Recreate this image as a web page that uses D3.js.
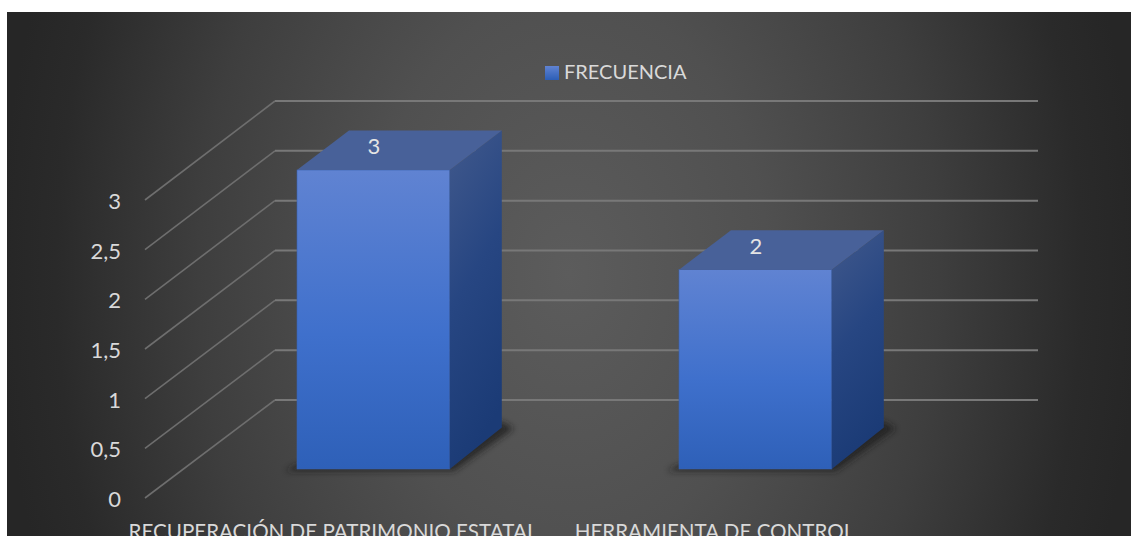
<!DOCTYPE html>
<html><head><meta charset="utf-8">
<script src="https://cdnjs.cloudflare.com/ajax/libs/d3/7.8.5/d3.min.js"></script>
<style>html,body{margin:0;padding:0;background:#fff;overflow:hidden}svg{display:block}</style>
</head><body><svg id="c" width="1131" height="536"></svg>
<script>
const categories = ["RECUPERACIÓN DE PATRIMONIO ESTATAL", "HERRAMIENTA DE CONTROL"];
const values = [3, 2];
const seriesName = "FRECUENCIA";
const ticks = [0, 0.5, 1, 1.5, 2, 2.5, 3];
const tickLabels = ["0", "0,5", "1", "1,5", "2", "2,5", "3"];

const FONT = "Lato, 'Open Sans', sans-serif";
const svg = d3.select("#c");
const defs = svg.append("defs");

const bgG = defs.append("radialGradient").attr("id","bg").attr("gradientUnits","userSpaceOnUse")
  .attr("cx",0).attr("cy",0).attr("r",1).attr("gradientTransform","translate(569,274) scale(570,800)");
[[0,"#5c5c5c"],[0.35,"#505050"],[0.65,"#3e3e3e"],[0.9,"#2a2a2a"],[1,"#262626"]].forEach(s=>bgG.append("stop").attr("offset",s[0]).attr("stop-color",s[1]));
const fr = defs.append("linearGradient").attr("id","front").attr("x1",0).attr("y1",0).attr("x2",0).attr("y2",1);
[[0,"#6083d2"],[0.55,"#3f70cc"],[1,"#2e60b8"]].forEach(s=>fr.append("stop").attr("offset",s[0]).attr("stop-color",s[1]));
const sd = defs.append("linearGradient").attr("id","side").attr("x1",0).attr("y1",0).attr("x2",0.25).attr("y2",1);
[[0,"#41598c"],[0.5,"#274682"],[1,"#1b3b76"]].forEach(s=>sd.append("stop").attr("offset",s[0]).attr("stop-color",s[1]));
const lg = defs.append("linearGradient").attr("id","leg").attr("x1",0).attr("y1",0).attr("x2",0).attr("y2",1);
[[0,"#6083d2"],[1,"#2c5eb6"]].forEach(s=>lg.append("stop").attr("offset",s[0]).attr("stop-color",s[1]));
defs.append("filter").attr("id","blur").attr("x","-20%").attr("y","-20%").attr("width","140%").attr("height","140%")
  .append("feGaussianBlur").attr("stdDeviation",3);

svg.append("rect").attr("x",7).attr("y",12).attr("width",1124).attr("height",524).attr("fill","url(#bg)");

const x = d3.scaleBand().domain(categories).range([182.4, 946.4]).paddingInner(0.6).paddingOuter(0.3);
const yBar = d3.scaleLinear().domain([0,3]).range([469,170]);
const yBack = d3.scaleLinear().domain([0,3]).range([400,101]);
const yFront = d3.scaleLinear().domain([0,3]).range([498,200]);
const depthX = 52, depthY = 39.5, depthYBase = 41.5;
const wallLeft = 275, wallRight = 1038, floorLeft = 145;

const grid = svg.append("g").attr("fill","none");
ticks.forEach(t=>{
  grid.append("path").attr("stroke","#6e6e6e").attr("stroke-width",1.6)
    .attr("d",d3.line()([[floorLeft,yFront(t)],[wallLeft,yBack(t)]]));
  grid.append("path").attr("stroke","#787878").attr("stroke-width",2)
    .attr("d",d3.line()([[wallLeft,yBack(t)],[wallRight,yBack(t)]]));
});

svg.append("g").selectAll("text").data(ticks).join("text")
  .attr("x",121).attr("y",d=>yFront(d)+9)
  .attr("text-anchor","end").attr("font-family",FONT).attr("font-size",22).attr("fill","#d9d9d9")
  .text((d,i)=>tickLabels[i]);

const bars = svg.append("g").selectAll("g").data(categories.map((c,i)=>({c,v:values[i]}))).join("g");
bars.append("path").attr("fill","#1c1c1c").attr("opacity",0.75).attr("filter","url(#blur)")
  .attr("d",d=>{const a=x(d.c),b=a+x.bandwidth(),y=yBar(0);
    return d3.line()([[a-12,y+2],[b+4,y+2],[b+depthX+12,y-depthYBase+1],[b+depthX,y-depthYBase-6],[a,y-4]]);});
bars.append("rect").attr("x",d=>x(d.c)).attr("y",d=>yBar(d.v)).attr("width",x.bandwidth())
  .attr("height",d=>yBar(0)-yBar(d.v)).attr("fill","url(#front)").attr("stroke","#3a62b0").attr("stroke-width",0.6);
bars.append("path").attr("fill","url(#side)")
  .attr("d",d=>{const b=x(d.c)+x.bandwidth(),t=yBar(d.v),f=yBar(0);
    return d3.line()([[b,t],[b+depthX,t-depthY],[b+depthX,f-depthYBase],[b,f]])+"Z";});
bars.append("path").attr("fill","#486199")
  .attr("d",d=>{const a=x(d.c),b=a+x.bandwidth(),t=yBar(d.v);
    return d3.line()([[a,t],[b,t],[b+depthX,t-depthY],[a+depthX,t-depthY]])+"Z";});
bars.append("text").attr("x",d=>x(d.c)+x.bandwidth()/2+0.5).attr("y",d=>yBar(d.v)-16)
  .attr("text-anchor","middle").attr("font-family",FONT).attr("font-size",22).attr("fill","#e4e4e4")
  .text(d=>d.v);

const catCenter = [333, 714.5];
svg.append("g").selectAll("text").data(categories).join("text")
  .attr("x",(d,i)=>catCenter[i]).attr("y",539)
  .attr("text-anchor","middle").attr("font-family",FONT).attr("font-size",20.6).attr("fill","#d9d9d9")
  .text(d=>d);

svg.append("rect").attr("x",545).attr("y",66).attr("width",14).attr("height",14).attr("fill","url(#leg)");
svg.append("text").attr("x",564).attr("y",79).attr("font-family",FONT).attr("font-size",20).attr("fill","#d9d9d9").text(seriesName);
</script></body></html>
